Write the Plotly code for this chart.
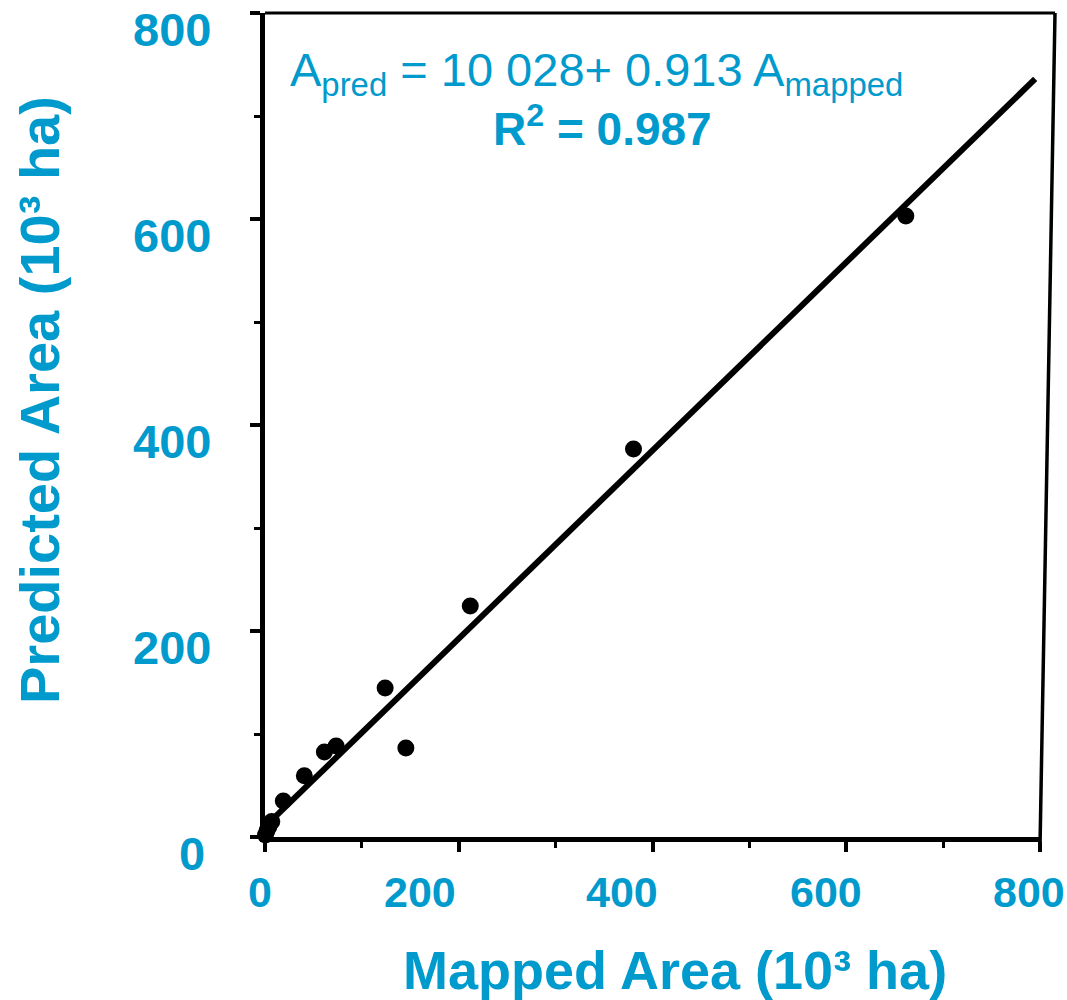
import plotly.graph_objects as go

# ---- data (10^3 ha) ----
mapped_area = [661.5, 380.4, 211.9, 124.0, 145.4, 73.4, 61.3, 40.6, 18.9, 7.0, 4.0, 2.0, 0.5]
predicted_area = [603.0, 376.7, 224.3, 144.7, 86.4, 88.3, 82.5, 59.5, 35.0, 15.0, 10.0, 6.0, 2.0]
fit_x = [0, 795]
fit_y = [10.0, 736.0]
x_tick_vals = [0, 200, 400, 600, 800]
x_tick_text = ["0", "200", "400", "600", "800"]
y_tick_vals = [0, 200, 400, 600, 800]
y_tick_text = ["0", "200", "400", "600", "800"]

BLUE = "#009ACD"
FONT = "Liberation Sans, Arial, sans-serif"

# label nudges (pixels), style only
x_label_shift = [-5, -39, -31, -20, -11]
y_label_shift = [-58, -52, -52, -52, -52]

fig = go.Figure()
fig.add_trace(go.Scatter(x=fit_x, y=fit_y, mode="lines",
                         line=dict(color="black", width=6), cliponaxis=False,
                         showlegend=False, hoverinfo="skip"))
fig.add_trace(go.Scatter(x=mapped_area, y=predicted_area, mode="markers",
                         marker=dict(color="black", size=17), cliponaxis=False,
                         showlegend=False))

annotations = []
for v, t, s in zip(x_tick_vals, x_tick_text, x_label_shift):
    annotations.append(dict(x=v, xref="x", y=0, yref="paper", text=t, showarrow=False,
                            xanchor="center", yanchor="middle", xshift=s, yshift=-55,
                            font=dict(family=FONT, size=43, color=BLUE, weight="bold")))
for v, t, s in zip(y_tick_vals, y_tick_text, y_label_shift):
    annotations.append(dict(x=0, xref="paper", y=v, yref="y", text=t, showarrow=False,
                            xanchor="right", yanchor="middle", xshift=s, yshift=-16,
                            font=dict(family=FONT, size=47, color=BLUE, weight="bold")))

annotations.append(dict(x=(596 - 265) / 775, xref="paper", y=1, yref="paper",
                        text="A<sub>pred</sub> = 10 028+ 0.913 A<sub>mapped</sub>",
                        showarrow=False, xanchor="center", yanchor="top", yshift=-28,
                        font=dict(family=FONT, size=47, color=BLUE)))
annotations.append(dict(x=(602 - 265) / 775, xref="paper", y=1, yref="paper",
                        text="<b>R<sup>2</sup> = 0.987</b>",
                        showarrow=False, xanchor="center", yanchor="top", yshift=-82,
                        font=dict(family=FONT, size=46, color=BLUE)))
annotations.append(dict(x=(675 - 265) / 775, xref="paper", y=0, yref="paper",
                        text="<b>Mapped Area (10³ ha)</b>",
                        showarrow=False, xanchor="center", yanchor="middle", yshift=-133,
                        font=dict(family=FONT, size=54, color=BLUE)))
annotations.append(dict(x=0, xref="paper", y=(837 - 400) / 824, yref="paper",
                        text="<b>Predicted Area (10³ ha)</b>", textangle=-90,
                        showarrow=False, xanchor="center", yanchor="middle", xshift=-225,
                        font=dict(family=FONT, size=56, color=BLUE)))

shapes = [
    dict(type="line", xref="paper", yref="paper", x0=0, y0=1, x1=(1055 - 265) / 775, y1=1,
         line=dict(color="black", width=3)),
    dict(type="line", xref="paper", yref="paper", x0=(1055 - 265) / 775, y0=1, x1=1.0,
         y1=-10 / 824, line=dict(color="black", width=3.5)),
]

axis_common = dict(showgrid=False, zeroline=False, showline=True, linecolor="black",
                   linewidth=5, ticks="outside", ticklen=10, tickwidth=4, tickcolor="black",
                   showticklabels=False, tick0=0, dtick=200,
                   minor=dict(ticks="outside", ticklen=6, tickwidth=3, tickcolor="black",
                              dtick=100, showgrid=False))

fig.update_layout(
    width=1067, height=1000,
    margin=dict(l=265, r=27, t=13, b=163, pad=0),
    paper_bgcolor="white", plot_bgcolor="white",
    xaxis=dict(range=[0, 800], **axis_common),
    yaxis=dict(range=[0, 800], **axis_common),
    annotations=annotations, shapes=shapes,
    showlegend=False,
)

fig.write_html("out.html")
